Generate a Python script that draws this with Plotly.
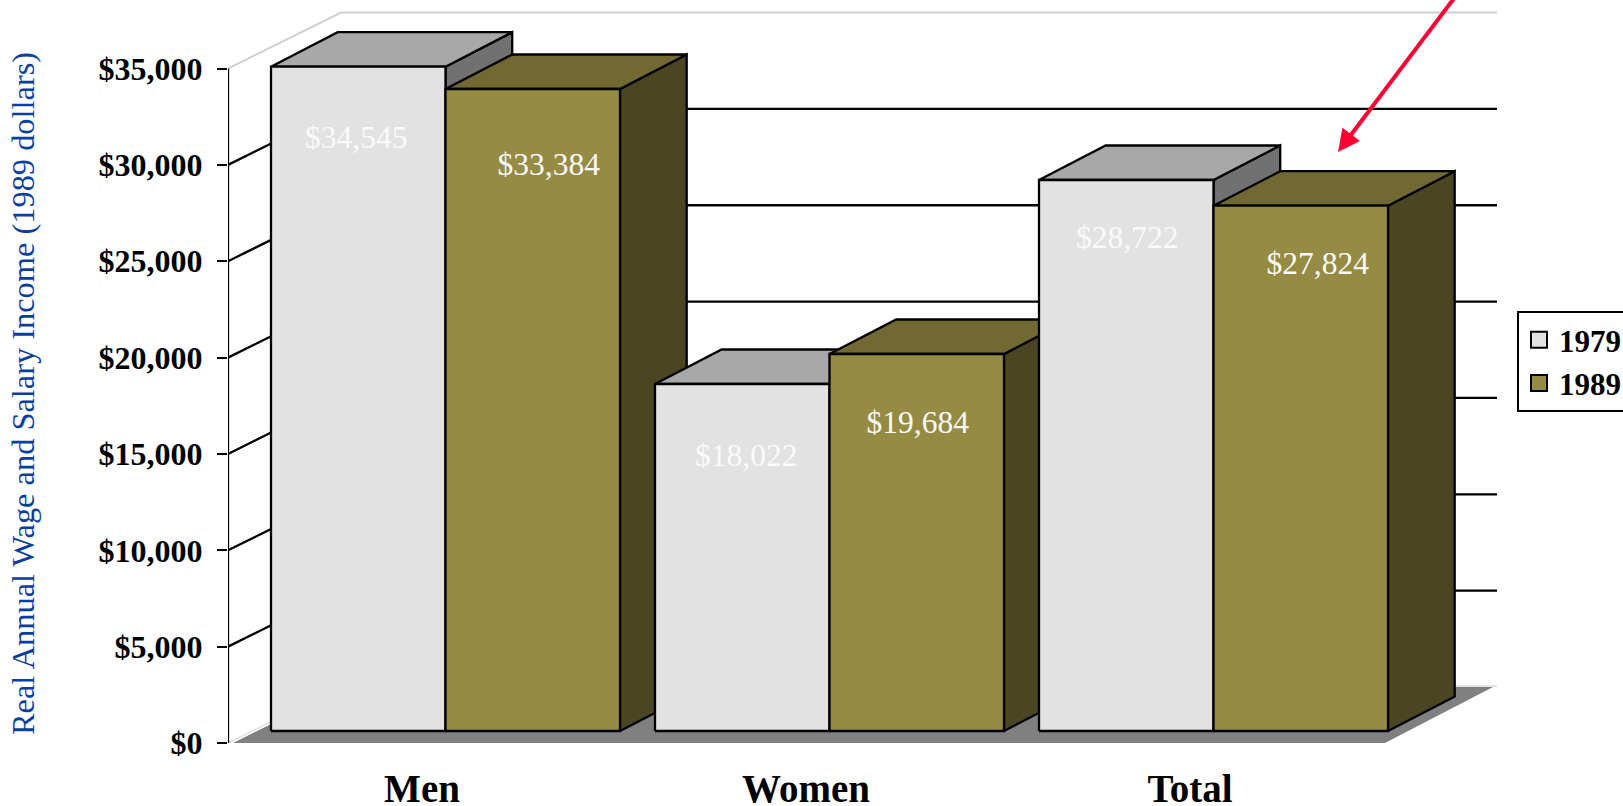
import plotly.graph_objects as go

categories = ["Men", "Women", "Total"]
series_names = ["1979", "1989"]
# bar heights as drawn on the axis
heights_1979 = [34473, 18007, 28593]
heights_1989 = [33316, 19564, 27260]
# value labels as printed
labels_1979 = ["$34,545", "$18,022", "$28,722"]
labels_1989 = ["$33,384", "$19,684", "$27,824"]
tick_values = [0, 5000, 10000, 15000, 20000, 25000, 30000, 35000]
tick_labels = ["$0", "$5,000", "$10,000", "$15,000", "$20,000", "$25,000", "$30,000", "$35,000"]
y_title = "Real Annual Wage and Salary Income (1989 dollars)"

W, H = 1623, 806
L, B = 228, 63
PX = 0.01927                      # pixels per dollar
Y_TOP = (H - B) / PX
D = lambda px: px / PX            # pixel offset -> dollars

SERIF = "Liberation Serif"
STYLE = {
    "1979": dict(front="#E2E2E2", top="#A8A8A8", side="#717171"),
    "1989": dict(front="#958B43", top="#716832", side="#4B4522"),
}
BAR_W = 174.5
GROUP_STEP = 384
GROUP_X0 = 43
BASE = D(12)
DX, DY = 66.7, D(34.5)
WALL_DX, WALL_DY = 113, D(56)
WALL_RIGHT = 1269
LW = 2.3

fig = go.Figure()


def poly(xs, ys, fill, line="black", width=LW):
    fig.add_trace(go.Scatter(
        x=xs + xs[:1], y=ys + ys[:1], mode="lines", fill="toself", fillcolor=fill,
        line=dict(color=line, width=width), showlegend=False, hoverinfo="skip"))


def seg(xs, ys, color="black", width=LW):
    fig.add_trace(go.Scatter(x=xs, y=ys, mode="lines", line=dict(color=color, width=width),
                             showlegend=False, hoverinfo="skip"))


# floor
poly([5, 1157, 1265, WALL_DX + 5], [0, 0, WALL_DY, WALL_DY], "#808080", line="rgba(0,0,0,0)", width=0)
# wall outline and grid
seg([0, WALL_DX], [0, WALL_DY], "#E0E0E0", 1.5)
seg([WALL_DX, WALL_RIGHT], [WALL_DY + D(1), WALL_DY + D(1)], "#DCDCDC", 1.5)
seg([0, WALL_DX, WALL_RIGHT], [35000, 35000 + WALL_DY, 35000 + WALL_DY], "#D0D0D0", 2)
for v in tick_values[1:-1]:
    seg([0, WALL_DX, WALL_RIGHT], [v, v + WALL_DY, v + WALL_DY])
# y axis line
seg([0, 0], [0, 35000])

# bars
label_x, label_y, label_t = [], [], []
label_dx = [[-2, 4, 1], [16, 1, 17]]
label_dy = [[73, 74, 60], [78, 71, 60]]
for g in range(len(categories)):
    for s, (name, hs, ls) in enumerate(zip(series_names, [heights_1979, heights_1989], [labels_1979, labels_1989])):
        st = STYLE[name]
        x0 = GROUP_X0 + GROUP_STEP * g + BAR_W * s
        x1 = x0 + BAR_W
        top = BASE + hs[g]
        poly([x1, x1 + DX, x1 + DX, x1], [BASE, BASE + DY, top + DY, top], st["side"])
        poly([x0, x0 + DX, x1 + DX, x1], [top, top + DY, top + DY, top], st["top"])
        poly([x0, x1, x1, x0], [BASE, BASE, top, top], st["front"])
        label_x.append((x0 + x1) / 2 + label_dx[s][g])
        label_y.append(top - D(label_dy[s][g]))
        label_t.append(ls[g])

fig.add_trace(go.Scatter(
    x=label_x, y=label_y, text=label_t, mode="text", textposition="middle center",
    textfont=dict(family=SERIF, size=31.5, color="#FAFAFA"), showlegend=False, hoverinfo="skip"))

# legend entries
for name in series_names:
    fig.add_trace(go.Scatter(
        x=[None], y=[None], mode="markers", name=name,
        marker=dict(symbol="square", size=18, color=STYLE[name]["front"], line=dict(color="black", width=2))))

fig.update_layout(
    width=W, height=H, autosize=False,
    margin=dict(l=L, r=0, t=0, b=B, autoexpand=False),
    paper_bgcolor="white", plot_bgcolor="white",
    font=dict(family=SERIF, color="black"),
    xaxis=dict(range=[0, W - L], showgrid=False, zeroline=False, showline=False, automargin=False,
               tickmode="array", tickvals=[194 + GROUP_STEP * i for i in range(3)], ticktext=categories,
               ticks="outside", ticklen=11, tickcolor="rgba(0,0,0,0)",
               tickfont=dict(family=SERIF, size=39, color="black", weight=700)),
    yaxis=dict(range=[0, Y_TOP], showgrid=False, zeroline=False, showline=False, automargin=False,
               tickmode="array", tickvals=tick_values, ticktext=tick_labels,
               ticks="outside", ticklen=10, tickwidth=2.3, tickcolor="black", ticklabelstandoff=8,
               tickfont=dict(family=SERIF, size=32, color="black", weight=700)),
    legend=dict(x=(1517 - L) / (W - L), xref="paper", xanchor="left", y=1 - 311 / (H - B), yanchor="top",
                bgcolor="white", bordercolor="black", borderwidth=2,
                font=dict(family=SERIF, size=31, color="black", weight=700)),
    annotations=[
        dict(x=-205 / (W - L), y=1 - 394 / (H - B), xref="paper", yref="paper", text=y_title, textangle=-90,
             xanchor="center", yanchor="middle", showarrow=False,
             font=dict(family=SERIF, size=32.4, color="#0B3EA1")),
        dict(x=1338 - L, y=(H - B - 152) / PX, xref="x", yref="y",
             ax=1455 - L, ay=(H - B + 3) / PX, axref="x", ayref="y", text="",
             showarrow=True, arrowhead=2, arrowsize=1.1, arrowwidth=4, arrowcolor="#FF0033"),
    ],
)
fig.write_html("out.html", config=dict(displayModeBar=False),
               post_script="document.body.style.margin='0';")
